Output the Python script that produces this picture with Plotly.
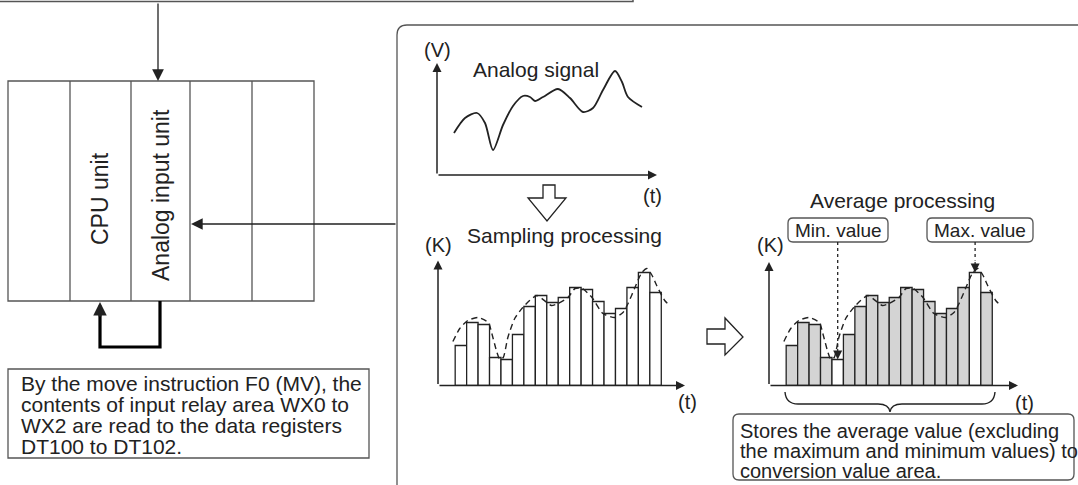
import plotly.graph_objects as go

W, H = 1078, 485
INK = "#222222"
EDGE = "#555555"
FONT = "Liberation Sans, Arial, sans-serif"

# analog signal sketch (t, V)
signal_t = [17, 28, 40, 48, 56, 66, 76, 86, 93, 98, 106, 121, 133, 146, 156, 166, 178, 185, 191, 205]
signal_v = [42, 57, 62, 52, 25, 50, 69, 79, 78, 74, 78, 86, 77, 63, 67, 85, 104, 93, 78, 68]

# sampled values (K), one per sampling period
sample_no = list(range(1, 19))
sample_k = [40, 63, 61, 28, 26, 51, 79, 90, 83, 88, 98, 96, 84, 72, 77, 98, 113, 93]

# dashed outline of the signal drawn over the samples
trace_t = [0.3, 0.9, 1.6, 2.5, 3.4, 3.7, 4.15, 4.4, 4.7, 5.1, 5.7, 6.4, 7.0, 7.65, 8.5, 8.9,
           9.5, 10.35, 10.97, 11.6, 12.45, 13.4, 14.45, 15.15, 15.6, 16.2, 16.8, 17.25, 17.7,
           18.1, 18.8, 19.25]
trace_k = [44, 57, 65, 68, 63, 52, 33, 26, 28, 48, 67, 78, 85, 90, 83, 80,
           82, 88, 97, 97, 88, 72, 68, 73, 82, 98, 113, 117, 110,
           100, 85, 80]

left_note = ["By the move instruction F0 (MV), the",
             "contents of input relay area WX0 to",
             "WX2 are read to the data registers",
             "DT100 to DT102."]
right_note = ["Stores the average value (excluding",
              "the maximum and minimum values) to",
              "conversion value area."]
units = ["CPU unit", "Analog input unit"]

i_min = sample_k.index(min(sample_k))
i_max = sample_k.index(max(sample_k))
avg_colors = ["white" if i in (i_min, i_max) else "#d4d4d4" for i in range(len(sample_k))]

PX_PER_SAMPLE = 11.45


def dom_x(a, b):
    return [a / W, b / W]


def dom_y(top, bottom):
    return [1 - bottom / H, 1 - top / H]


def rrect(x0, y0, x1, y1, r):
    return (f"M{x0 + r},{y0} L{x1 - r},{y0} Q{x1},{y0} {x1},{y0 + r} L{x1},{y1 - r} "
            f"Q{x1},{y1} {x1 - r},{y1} L{x0 + r},{y1} Q{x0},{y1} {x0},{y1 - r} "
            f"L{x0},{y0 + r} Q{x0},{y0} {x0 + r},{y0} Z")


fig = go.Figure()

fig.add_trace(go.Scatter(x=signal_t, y=signal_v, mode="lines", xaxis="x2", yaxis="y2",
                         line=dict(color=INK, width=1.8, shape="spline", smoothing=0.8)))

fig.add_trace(go.Bar(x=sample_no, y=sample_k, width=1, xaxis="x3", yaxis="y3",
                     marker=dict(color="white", line=dict(color=INK, width=1.3))))
fig.add_trace(go.Scatter(x=trace_t, y=trace_k, mode="lines", xaxis="x3", yaxis="y3",
                         line=dict(color=INK, width=1.4, dash="6px,4px", shape="spline", smoothing=0.6)))

fig.add_trace(go.Bar(x=sample_no, y=sample_k, width=1, xaxis="x4", yaxis="y4",
                     marker=dict(color=avg_colors, line=dict(color=INK, width=1.3))))
fig.add_trace(go.Scatter(x=trace_t, y=trace_k, mode="lines", xaxis="x4", yaxis="y4",
                         line=dict(color=INK, width=1.4, dash="6px,4px", shape="spline", smoothing=0.6)))

hidden = dict(visible=False, fixedrange=True)
fig.update_layout(
    width=W, height=H, margin=dict(l=0, r=0, t=0, b=0),
    paper_bgcolor="white", plot_bgcolor="rgba(0,0,0,0)", showlegend=False,
    xaxis=dict(range=[0, W], domain=[0, 1], anchor="y", **hidden),
    yaxis=dict(range=[H, 0], domain=[0, 1], anchor="x", **hidden),
    xaxis2=dict(range=[0, 220], domain=dom_x(437, 657), anchor="y2", **hidden),
    yaxis2=dict(range=[0, 112], domain=dom_y(63, 175), anchor="x2", **hidden),
    xaxis3=dict(range=[-1, -1 + 247 / PX_PER_SAMPLE], domain=dom_x(438, 685), anchor="y3", **hidden),
    yaxis3=dict(range=[0, 185.5], domain=dom_y(200, 385.5), anchor="x3", **hidden),
    xaxis4=dict(range=[-1, -1 + 249 / PX_PER_SAMPLE], domain=dom_x(769, 1018), anchor="y4", **hidden),
    yaxis4=dict(range=[0, 185.5], domain=dom_y(200, 385.5), anchor="x4", **hidden),
)


def arrow(x, y, ax, ay, xref="x", yref="y", width=1.3, size=1.8):
    fig.add_annotation(x=x, y=y, ax=ax, ay=ay, xref=xref, yref=yref, axref=xref, ayref=yref,
                       text="", showarrow=True, arrowhead=2, arrowwidth=width,
                       arrowsize=size, arrowcolor=INK)


def label(x, y, s, size=20, xanchor="center", angle=0):
    fig.add_annotation(x=x, y=y, xref="x", yref="y", text=s, showarrow=False,
                       font=dict(family=FONT, size=size, color=INK),
                       xanchor=xanchor, yanchor="middle", textangle=angle)


def line(x0, y0, x1, y1, width=1.3, color=EDGE, dash=None, xref="x", yref="y"):
    fig.add_shape(type="line", x0=x0, y0=y0, x1=x1, y1=y1, xref=xref, yref=yref,
                  line=dict(color=color, width=width, dash=dash))


def path(d, width=1.3, color=EDGE, fill=None):
    fig.add_shape(type="path", path=d, xref="x", yref="y", fillcolor=fill,
                  line=dict(color=color, width=width))


# top box edge and arrow into the PLC
fig.add_shape(type="rect", x0=-5, y0=-20, x1=633, y1=1.5, xref="x", yref="y",
              line=dict(color=EDGE, width=1.5))
arrow(158, 81, 158, 2)

# PLC unit rack
fig.add_shape(type="rect", x0=8, y0=81, x1=314, y1=301, xref="x", yref="y",
              line=dict(color=EDGE, width=1.3))
for xd in [70, 131, 190, 252]:
    line(xd, 81, xd, 301)
label(100, 199, units[0], size=23, angle=-90)
label(161, 195, units[1], size=23, angle=-90)

# thick feedback arrow from analog unit to CPU
path("M160,301 L160,347 L100,347 L100,312", width=3.2, color="black")
arrow(100, 302, 100, 318, width=3, size=0.9)

# left note
fig.add_shape(type="rect", x0=8, y0=369, x1=369, y1=458, xref="x", yref="y",
              line=dict(color=EDGE, width=1.3))
for k, s in enumerate(left_note):
    label(19, 383 + k * 21, s, size=21, xanchor="left")

# right panel
path(rrect(397, 25, 1095, 500, 10), width=1.3)
arrow(191, 224, 397, 224)

# analog signal axes
arrow(0, 112, 0, 0, "x2", "y2", width=1.5, size=1.2)
arrow(220, 0, 0, 0, "x2", "y2", width=1.5, size=1.2)
label(437, 50, "(V)")
label(536, 69, "Analog signal", size=21)
label(652, 196, "(t)")

# hollow down arrow
path("M543,185 L555,185 L555,198 L566,198 L547,221 L528,198 L543,198 Z", width=1.3, color=INK, fill="white")

# sampling chart
label(564, 235, "Sampling processing", size=21)
label(438, 245, "(K)")
arrow(-1, 125, -1, 0, "x3", "y3", width=1.5, size=1.2)
arrow(-1 + 247 / PX_PER_SAMPLE, 0, -1, 0, "x3", "y3", width=1.5, size=1.2)
label(687, 402, "(t)")

# hollow right arrow
path("M707,329 L725,329 L725,318 L743,337 L725,355 L725,344 L707,344 Z", width=1.3, color=INK, fill="white")

# average chart
label(902, 200, "Average processing", size=21)
label(770, 245, "(K)")
arrow(-1, 123.5, -1, 0, "x4", "y4", width=1.5, size=1.2)
arrow(-1 + 249 / PX_PER_SAMPLE, 0, -1, 0, "x4", "y4", width=1.5, size=1.2)
label(1024, 403, "(t)")

path(rrect(788, 218, 888, 242, 5), width=1.3)
label(838, 230, "Min. value", size=19)
path(rrect(927, 218, 1033, 242, 5), width=1.3)
label(980, 230, "Max. value", size=19)

for i in (i_min, i_max):
    xb = sample_no[i]
    line(xb, 385.5 - 242, xb, sample_k[i] + 12, width=1.3, color=INK, dash="dot", xref="x4", yref="y4")
    arrow(xb, sample_k[i], xb, sample_k[i] + 12, "x4", "y4", width=1.2, size=1.5)

# brace under the average chart and its note
path("M785,392 Q786,404 798,404 L878,404 Q889,404 890,412 Q891,404 902,404 L982,404 Q994,404 995,392",
     width=1.4, color=INK)
path(rrect(733, 414, 1074, 480, 6), width=1.3)
for k, s in enumerate(right_note):
    label(738, 431 + k * 20, s, size=20, xanchor="left")

# the page body has a default 8px margin; drop it so the figure sits at the window corner
fig.write_html("out.html", config={"displayModeBar": False},
               post_script="document.body.style.margin='0';")
